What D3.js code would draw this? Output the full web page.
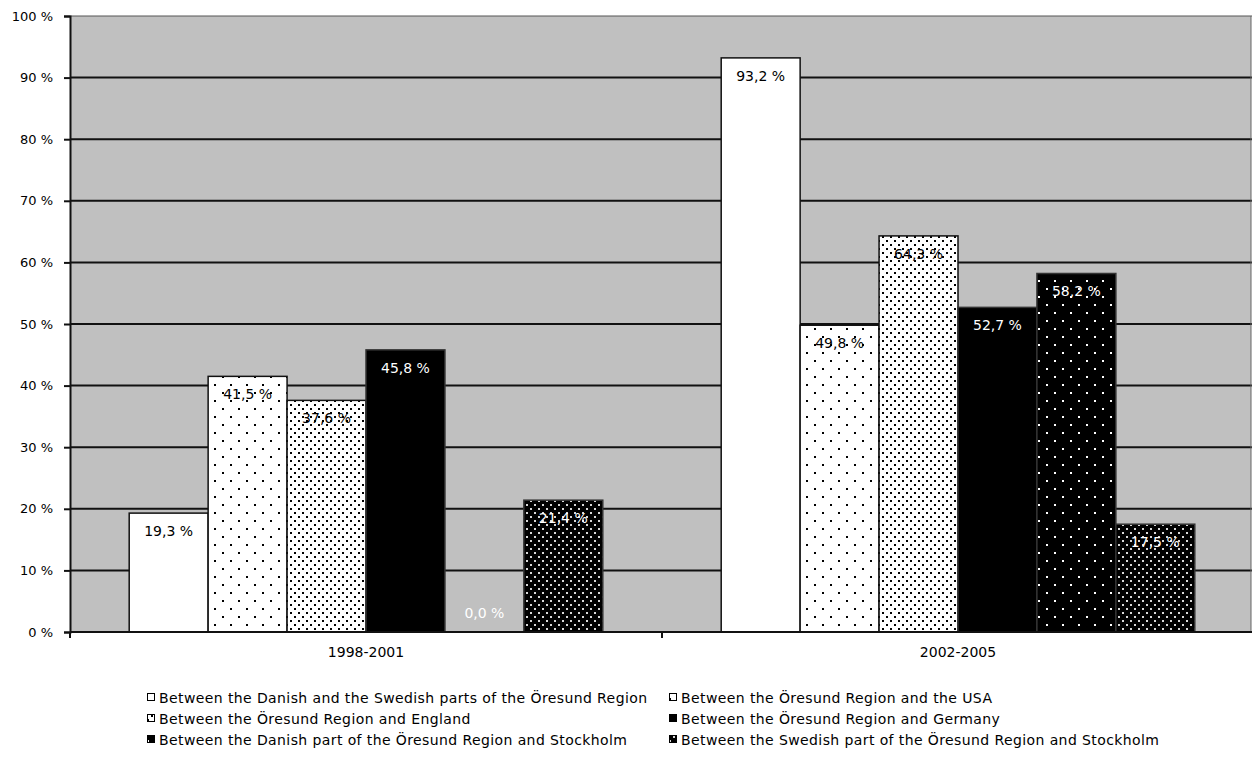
<!DOCTYPE html>
<html>
<head>
<meta charset="utf-8">
<script src="https://cdn.jsdelivr.net/npm/d3@7/dist/d3.min.js"></script>
<style>
  html, body { margin: 0; padding: 0; background: #fff; }
  svg { display: block; }
  text { font-family: "DejaVu Sans", sans-serif; fill: #000; }
</style>
</head>
<body>
<svg id="chart" width="1252" height="764"></svg>
<script>
// Periods on the x axis
const periods = ["1998-2001", "2002-2005"];

// Series names (legend order)
const seriesNames = [
  "Between the Danish and the Swedish parts of the Öresund Region",
  "Between the Öresund Region and the USA",
  "Between the Öresund Region and England",
  "Between the Öresund Region and Germany",
  "Between the Danish part of the Öresund Region and Stockholm",
  "Between the Swedish part of the Öresund Region and Stockholm"
];

// Share (%) per series, one value per period
const danishSwedish = [19.3, 93.2];
const usa           = [41.5, 49.8];
const england       = [37.6, 64.3];
const germany       = [45.8, 52.7];
const danishStockholm  = [0.0, 58.2];
const swedishStockholm = [21.4, 17.5];

const seriesValues = [danishSwedish, usa, england, germany, danishStockholm, swedishStockholm];

// Y axis ticks
const yTicks = [0, 10, 20, 30, 40, 50, 60, 70, 80, 90, 100];

const svg = d3.select("#chart");
const plot = { left: 70, top: 16, right: 1254, bottom: 632 };

// Fill patterns: plain white, sparse dots, dense dots, black, black w/ sparse dots, black w/ dense dots
const defs = svg.append("defs");
function dotPattern(id, bg, dot, size) {
  const p = defs.append("pattern")
    .attr("id", id).attr("patternUnits", "userSpaceOnUse")
    .attr("width", size).attr("height", size);
  p.append("rect").attr("width", size).attr("height", size).attr("fill", bg);
  p.append("rect").attr("x", 0).attr("y", 0).attr("width", 2).attr("height", 2).attr("fill", dot);
  p.append("rect").attr("x", size / 2).attr("y", size / 2).attr("width", 2).attr("height", 2).attr("fill", dot);
}
dotPattern("sparseBlack", "#fff", "#000", 16);
dotPattern("denseBlack", "#fff", "#000", 8);
dotPattern("sparseWhite", "#000", "#fff", 16);
dotPattern("denseWhite", "#000", "#d8d8d8", 8);

const fills = ["#fff", "url(#sparseBlack)", "url(#denseBlack)", "#000", "url(#sparseWhite)", "url(#denseWhite)"];
const labelColors = ["#000", "#000", "#000", "#fff", "#fff", "#fff"];

// Scales
const x0 = d3.scaleBand().domain(periods).range([plot.left, plot.right]).paddingInner(0).paddingOuter(0);
const x1 = d3.scaleBand().domain(d3.range(seriesNames.length)).range([0, x0.bandwidth()])
  .paddingInner(0).paddingOuter(0.75);
const y = d3.scaleLinear().domain([0, 100]).range([plot.bottom, plot.top]);

// Plot background
svg.append("rect")
  .attr("x", plot.left).attr("y", plot.top)
  .attr("width", 1251 - plot.left).attr("height", plot.bottom - plot.top)
  .attr("fill", "#c0c0c0");

// Horizontal gridlines
svg.append("g").selectAll("line")
  .data(yTicks.filter(t => t > 0))
  .join("line")
  .attr("x1", plot.left).attr("x2", 1252)
  .attr("y1", d => y(d)).attr("y2", d => y(d))
  .attr("stroke", d => d === 100 ? "#555" : "#111")
  .attr("stroke-width", d => d === 100 ? 1 : 2);

// Right edge of the plot area
svg.append("line")
  .attr("x1", 1251).attr("x2", 1251).attr("y1", plot.top).attr("y2", plot.bottom)
  .attr("stroke", "#666").attr("stroke-width", 1);

// Bars
const fmt = v => d3.format(".1f")(v).replace(".", ",") + " %";
const groups = svg.append("g").selectAll("g")
  .data(periods)
  .join("g")
  .attr("transform", d => `translate(${x0(d)},0)`);

groups.selectAll("rect")
  .data((p, pi) => seriesValues.map((vals, si) => ({ si, v: vals[pi] })))
  .join("rect")
  .attr("x", d => x1(d.si))
  .attr("y", d => y(d.v))
  .attr("width", x1.bandwidth())
  .attr("height", d => y(0) - y(d.v))
  .attr("fill", d => fills[d.si])
  .attr("stroke", d => d.v > 0 ? (d.si >= 3 ? "#333" : "#111") : "none")
  .attr("stroke-width", 1.5);

// Value labels inside the bar tops
groups.selectAll("text")
  .data((p, pi) => seriesValues.map((vals, si) => ({ si, v: vals[pi] })))
  .join("text")
  .attr("x", d => x1(d.si) + x1.bandwidth() / 2)
  .attr("y", d => Math.min(y(d.v) + 18, y(0) - 19))
  .attr("dy", "0.35em")
  .attr("text-anchor", "middle")
  .style("font-size", "14px")
  .style("fill", d => labelColors[d.si])
  .text(d => fmt(d.v));

// Y axis
const yAxis = d3.axisLeft(y).tickValues(yTicks).tickSize(6).tickPadding(11)
  .tickFormat(d => d + " %");
const gy = svg.append("g").attr("transform", `translate(${plot.left},0)`).call(yAxis);
gy.select(".domain").attr("stroke", "#111").attr("stroke-width", 2);
gy.selectAll(".tick line").attr("stroke", "#111").attr("stroke-width", 2);
gy.selectAll(".tick text").style("font-size", "13px").style("font-family", "DejaVu Sans").attr("fill", "#000");

// X axis
const xAxis = d3.axisBottom(x0).tickSize(0).tickPadding(15);
const gx = svg.append("g").attr("transform", `translate(0,${plot.bottom})`).call(xAxis);
gx.select(".domain").remove();
gx.selectAll(".tick text").style("font-size", "14px").style("font-family", "DejaVu Sans").attr("fill", "#000");
svg.append("line")
  .attr("x1", plot.left).attr("x2", 1252).attr("y1", plot.bottom).attr("y2", plot.bottom)
  .attr("stroke", "#111").attr("stroke-width", 2);
// Category separator ticks
svg.append("g").selectAll("line")
  .data(periods)
  .join("line")
  .attr("x1", d => x0(d)).attr("x2", d => x0(d))
  .attr("y1", plot.bottom).attr("y2", plot.bottom + 6)
  .attr("stroke", "#111").attr("stroke-width", 2);

// Legend: two columns, three rows
const legendCols = [147, 669];
const legendRows = [698, 719, 740];
const legend = svg.append("g").selectAll("g")
  .data(seriesNames)
  .join("g")
  .attr("transform", (d, i) => `translate(${legendCols[i % 2]},${legendRows[Math.floor(i / 2)]})`);
legend.append("rect")
  .attr("x", 0.5).attr("y", -4.5).attr("width", 7).attr("height", 7)
  .attr("fill", (d, i) => fills[i])
  .attr("stroke", "#000").attr("stroke-width", 1);
legend.append("text")
  .attr("x", 12).attr("dy", "0.35em")
  .style("font-size", "14px")
  .style("letter-spacing", "0.4px")
  .text(d => d);
</script>
</body>
</html>
